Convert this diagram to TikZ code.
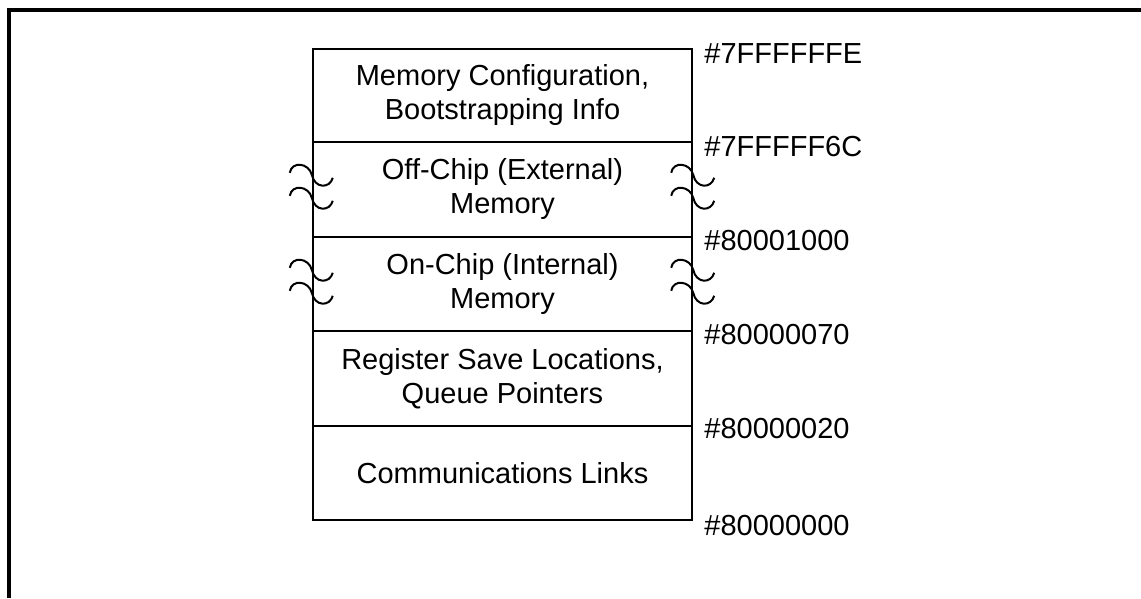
\documentclass[tikz,border=0pt]{standalone}
\usepackage{fontspec}
\setmainfont{Liberation Sans}
\usetikzlibrary{calc}
\begin{document}
\begin{tikzpicture}[x=1pt,y=1pt,
  region/.style={draw, line width=2.4pt, minimum width=379pt, inner sep=0pt,
                 align=center, font=\fontsize{29}{34}\selectfont},
  addr/.style={anchor=west, inner sep=0pt, font=\fontsize{29}{34}\selectfont},
  frameline/.style={line width=4pt},
  breakmark/.pic={\draw[line width=2pt]
      (-22,2) .. controls (-20,14) and (-3,12) .. (0,0)
              .. controls (3,-14) and (18,-14) .. (21,-3);}]
\useasboundingbox (0,0) rectangle (1141,598);

% outer frame (top and left edges)
\draw[frameline] (9,0) -- (9,588) -- (1141,588);

% memory map regions, top to bottom
\node[region, minimum height=93pt] (r1) at (502.5,502.5)
  {Memory Configuration,\\Bootstrapping Info};
\node[region, minimum height=95pt] (r2) at (502.5,408.5)
  {Off-Chip (External)\\Memory};
\node[region, minimum height=94pt] (r3) at (502.5,314)
  {On-Chip (Internal)\\Memory};
\node[region, minimum height=95pt] (r4) at (502.5,219.5)
  {Register Save Locations,\\Queue Pointers};
\node[region, minimum height=94pt] (r5) at (502.5,125)
  {Communications Links};

% break marks on the not-to-scale regions
\foreach \r in {r2,r3}{
  \pic at ($(\r.north west)+(0,-34)$) {breakmark};
  \pic at ($(\r.north west)+(0,-57)$) {breakmark};
  \pic at ($(\r.north east)+(0,-34)$) {breakmark};
  \pic at ($(\r.north east)+(0,-57)$) {breakmark};
}

% boundary addresses
\node[addr] (a1) at ($(r1.north east)+(11,-6)$) {\#7FFFFFFE};
\node[addr] (a2) at ($(r2.north east)+(11,-6)$) {\#7FFFFF6C};
\node[addr] (a3) at ($(r3.north east)+(11,-5)$) {\#80001000};
\node[addr] (a4) at ($(r4.north east)+(11,-5)$) {\#80000070};
\node[addr] (a5) at ($(r5.north east)+(11,-4)$) {\#80000020};
\node[addr] (a6) at ($(r5.south east)+(11,-4)$) {\#80000000};
\end{tikzpicture}
\end{document}
